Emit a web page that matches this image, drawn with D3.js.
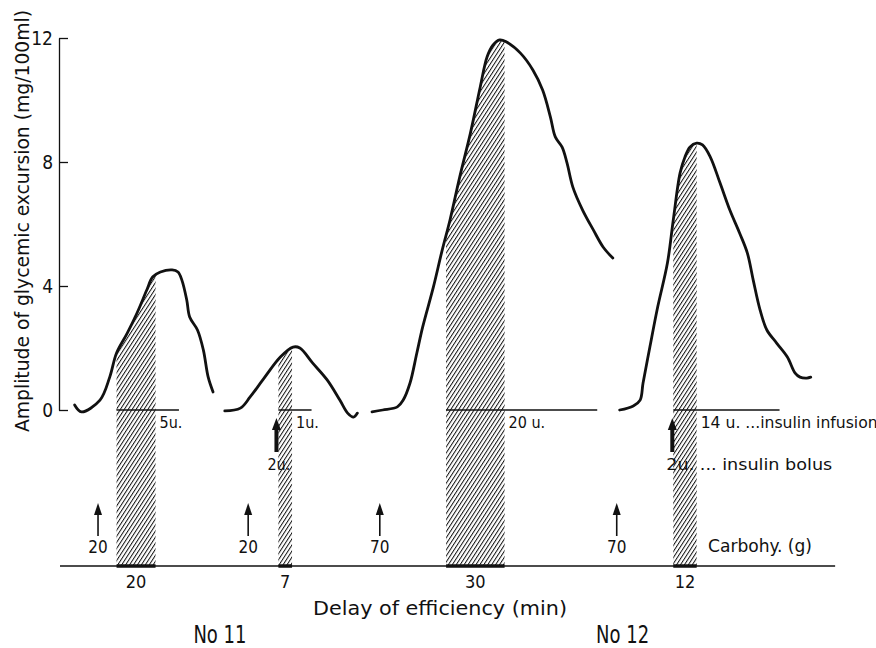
<!DOCTYPE html>
<html>
<head>
<meta charset="utf-8">
<script src="https://cdn.jsdelivr.net/npm/d3@7"></script>
<style>
  body { margin: 0; background: #fff; }
  text { font-family: "DejaVu Sans Condensed", "Liberation Sans Narrow", "Liberation Sans", sans-serif; fill: #111; }
</style>
</head>
<body>
<svg id="chart" width="876" height="648"></svg>
<script>
// glycemic excursion curves, x in minutes, y in mg/100ml
var curveNo11a = [[7.5,0.16],[11,-0.06],[20.5,0.32],[25.5,1.06],[29,1.84],[34.5,2.48],[39.5,3.13],[44.5,3.87],[47.5,4.29],[51.5,4.45],[57.5,4.52],[60.5,4.45],[62.5,4.19],[65,3.55],[66.5,3.0],[70.5,2.58],[73.5,1.94],[76,1.06],[78.5,0.58]];
var curveNo11b = [[84.5,-0.03],[92.5,0.06],[97.5,0.42],[104,0.97],[113,1.71],[119.5,2.03],[123,2.0],[129.5,1.52],[137,0.97],[143.5,0.32],[147.5,-0.1],[150.5,-0.23],[152.5,-0.1]];
var curveNo12a = [[160,-0.06],[165.5,0],[173,0.1],[176,0.32],[179.5,0.87],[183,1.84],[186,2.68],[191.5,3.97],[196,5.16],[200,6.13],[205,7.52],[210.5,8.94],[215.5,10.42],[219,11.39],[222,11.77],[225.5,11.94],[229,11.87],[236,11.52],[242.5,10.97],[247.5,10.32],[251.5,9.45],[254,8.81],[257.5,8.48],[260,7.97],[263,7.19],[268,6.45],[273.5,5.81],[278.5,5.26],[283.5,4.9]];
var curveNo12b = [[287,0],[294,0.13],[297.5,0.32],[299,0.87],[302.5,2.03],[306.5,3.32],[311.5,4.74],[314.5,6.13],[318,7.65],[320.5,8.16],[323,8.48],[326.5,8.61],[329.5,8.55],[333.5,8.16],[338.5,7.32],[343.5,6.45],[348.5,5.71],[352.5,5.06],[355.5,4.19],[359,3.23],[362.5,2.58],[367.5,2.16],[373,1.71],[377,1.19],[379.5,1.06],[383,1.03],[385,1.06]];
var curves = [curveNo11a, curveNo11b, curveNo12a, curveNo12b];

var delayStart = [29, 112, 198, 314.5];     // min
var delayMinutes = [20, 7, 30, 12];         // delay of efficiency (min)
var infusionEnd = [61, 129, 275.5, 369];    // end of infusion line (min)
var infusionUnits = ["5u.", "1u.", "20 u.", "14 u.  ...insulin infusion"];
var bolusAt = [111, 314];
var bolusLabels = ["2u.", "2u.  ... insulin  bolus"];
var carbAt = [19.5, 96.5, 164, 285.5];
var carbGrams = [20, 20, 70, 70];
var yTicks = [0, 4, 8, 12];
var patients = [["No 11", 82], ["No 12", 288.5]];

var svg = d3.select("#chart");
var xScale = d3.scaleLinear().domain([0, 400]).range([60, 840]);
var yScale = d3.scaleLinear().domain([0, 12]).range([410, 38]);

// rows under the graph
var baseY = 566, bolusTop = 418, bolusBottom = 452, carbTop = 503, carbBottom = 536;

var defs = svg.append("defs");
defs.append("pattern")
    .attr("id", "hatch")
    .attr("patternUnits", "userSpaceOnUse")
    .attr("width", 3.3)
    .attr("height", 3.3)
    .attr("patternTransform", "rotate(33)")
  .append("line")
    .attr("x1", 0.5).attr("y1", 0)
    .attr("x2", 0.5).attr("y2", 3.3)
    .attr("stroke", "#111")
    .attr("stroke-width", 1);

// hatched delay columns: area under each curve, clipped to the delay window
var hatchArea = d3.area()
    .x(function (d) { return xScale(d[0]); })
    .y0(baseY)
    .y1(function (d) { return yScale(d[1]); })
    .curve(d3.curveCatmullRom);

delayStart.forEach(function (s, i) {
    defs.append("clipPath").attr("id", "clip" + i)
      .append("rect")
        .attr("x", xScale(s))
        .attr("y", 0)
        .attr("width", xScale(s + delayMinutes[i]) - xScale(s))
        .attr("height", baseY);
    svg.append("path")
        .attr("d", hatchArea(curves[i]))
        .attr("clip-path", "url(#clip" + i + ")")
        .attr("fill", "url(#hatch)");
});

// y axis
var yAxis = d3.axisLeft(yScale)
    .tickValues(yTicks)
    .tickSizeInner(-9)
    .tickSizeOuter(0)
    .tickPadding(6);
var gy = svg.append("g").attr("transform", "translate(59,0)").call(yAxis);
gy.selectAll("path, line").attr("stroke", "#111").attr("stroke-width", 1.3);
gy.selectAll("text").style("font-size", "19px").attr("fill", "#111")
    .style("font-family", "'DejaVu Sans Condensed','Liberation Sans Narrow','Liberation Sans',sans-serif");

svg.append("text")
    .attr("transform", "translate(29,221) rotate(-90)")
    .attr("text-anchor", "middle")
    .attr("textLength", 422)
    .attr("lengthAdjust", "spacingAndGlyphs")
    .style("font-size", "20px")
    .text("Amplitude of glycemic excursion (mg/100ml)");

// curves
var line = d3.line()
    .x(function (d) { return xScale(d[0]); })
    .y(function (d) { return yScale(d[1]); })
    .curve(d3.curveCatmullRom);
svg.selectAll(".curve")
    .data(curves)
  .enter().append("path")
    .attr("class", "curve")
    .attr("d", line)
    .attr("fill", "none")
    .attr("stroke", "#111")
    .attr("stroke-width", 2.8)
    .attr("stroke-linecap", "round")
    .attr("stroke-linejoin", "round");

// insulin infusion lines at zero
delayStart.forEach(function (s, i) {
    svg.append("line")
        .attr("x1", xScale(s)).attr("x2", xScale(infusionEnd[i]))
        .attr("y1", yScale(0)).attr("y2", yScale(0))
        .attr("stroke", "#111").attr("stroke-width", 1.6);
    var t = svg.append("text")
        .attr("x", xScale(s + delayMinutes[i]) + 4)
        .attr("y", yScale(0) + 18)
        .style("font-size", "16px")
        .text(infusionUnits[i]);
    if (i === 3) t.attr("textLength", 177).attr("lengthAdjust", "spacingAndGlyphs");
});

function arrow(x, top, bottom, w, headW, headH) {
    svg.append("line")
        .attr("x1", x).attr("x2", x)
        .attr("y1", top + headH - 1).attr("y2", bottom)
        .attr("stroke", "#111").attr("stroke-width", w);
    svg.append("path")
        .attr("d", "M" + x + "," + top + "L" + (x - headW / 2) + "," + (top + headH) + "L" + (x + headW / 2) + "," + (top + headH) + "Z")
        .attr("fill", "#111");
}

// insulin bolus
bolusAt.forEach(function (t, i) {
    arrow(xScale(t), bolusTop, bolusBottom, 4, 9, 12);
    var lab = svg.append("text")
        .attr("x", xScale(t) - 6)
        .attr("y", bolusBottom + 18)
        .style("font-size", "16px")
        .text(bolusLabels[i]);
    if (i === 1) lab.attr("textLength", 166).attr("lengthAdjust", "spacingAndGlyphs");
    else lab.attr("x", xScale(t) - 9);
});

// carbohydrate intake
carbAt.forEach(function (t, i) {
    arrow(xScale(t), carbTop, carbBottom, 1.6, 8, 12);
    svg.append("text")
        .attr("x", xScale(t))
        .attr("y", carbBottom + 17)
        .attr("text-anchor", "middle")
        .style("font-size", "17px")
        .text(carbGrams[i]);
});
svg.append("text")
    .attr("x", 708).attr("y", 552)
    .attr("textLength", 104)
    .attr("lengthAdjust", "spacingAndGlyphs")
    .style("font-size", "17px")
    .text("Carbohy. (g)");

// time line with delay segments
svg.append("line")
    .attr("x1", xScale(0)).attr("x2", xScale(397.5))
    .attr("y1", baseY).attr("y2", baseY)
    .attr("stroke", "#111").attr("stroke-width", 1.4);
delayStart.forEach(function (s, i) {
    svg.append("line")
        .attr("x1", xScale(s)).attr("x2", xScale(s + delayMinutes[i]))
        .attr("y1", baseY).attr("y2", baseY)
        .attr("stroke", "#111").attr("stroke-width", 3.5);
    svg.append("text")
        .attr("x", xScale(s + delayMinutes[i] / 2))
        .attr("y", 588)
        .attr("text-anchor", "middle")
        .style("font-size", "18px")
        .text(delayMinutes[i]);
});

svg.append("text")
    .attr("x", 440).attr("y", 615)
    .attr("text-anchor", "middle")
    .attr("textLength", 254)
    .attr("lengthAdjust", "spacingAndGlyphs")
    .style("font-size", "19px")
    .text("Delay of efficiency  (min)");

svg.selectAll(".patient")
    .data(patients)
  .enter().append("text")
    .attr("class", "patient")
    .attr("x", function (d) { return xScale(d[1]); })
    .attr("y", 643)
    .attr("text-anchor", "middle")
    .attr("textLength", 53)
    .attr("lengthAdjust", "spacingAndGlyphs")
    .style("font-size", "24px")
    .text(function (d) { return d[0]; });
</script>
</body>
</html>
